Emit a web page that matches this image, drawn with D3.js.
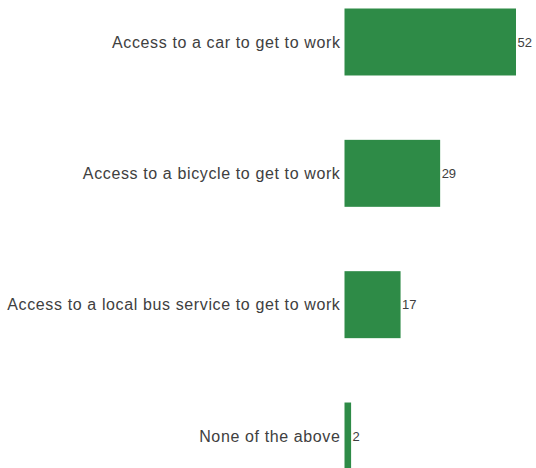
<!DOCTYPE html>
<html>
<head>
<meta charset="utf-8">
<script src="https://cdn.jsdelivr.net/npm/d3@7"></script>
<style>
  html, body { margin: 0; padding: 0; background: #fff; }
  svg { display: block; }
  .label { font-family: "Liberation Sans", Arial, sans-serif; font-size: 16px; letter-spacing: 0.62px; fill: #404040; }
  .value { font-family: "Liberation Sans", Arial, sans-serif; font-size: 13px; fill: #404040; }
</style>
</head>
<body>
<svg id="chart" width="536" height="468"></svg>
<script>
  const categories = [
    "Access to a car to get to work",
    "Access to a bicycle to get to work",
    "Access to a local bus service to get to work",
    "None of the above"
  ];
  const values = [52, 29, 17, 2];

  const W = 536, H = 468;
  const BAR_COLOR = "#2E8B47";

  const svg = d3.select("#chart");

  const x = d3.scaleLinear().domain([0, 52]).range([344.5, 516]);
  const y = d3.scaleBand()
    .domain(categories)
    .range([8.5, 469.5])
    .paddingInner(0.49)
    .paddingOuter(0);

  const rows = categories.map((c, i) => ({ cat: c, v: values[i] }));

  svg.append("g")
    .selectAll("rect")
    .data(rows)
    .join("rect")
    .attr("x", x(0))
    .attr("y", (d) => y(d.cat))
    .attr("width", (d) => x(d.v) - x(0))
    .attr("height", y.bandwidth())
    .attr("fill", BAR_COLOR);

  // category labels, right-aligned to the bar origin
  svg.append("g")
    .selectAll("text")
    .data(rows)
    .join("text")
    .attr("class", "label")
    .attr("x", x(0) - 4)
    .attr("y", (d) => y(d.cat) + y.bandwidth() / 2)
    .attr("dy", "0.35em")
    .attr("text-anchor", "end")
    .text((d) => d.cat);

  // value labels at bar ends
  svg.append("g")
    .selectAll("text")
    .data(rows)
    .join("text")
    .attr("class", "value")
    .attr("x", (d) => x(d.v) + 1.5)
    .attr("y", (d) => y(d.cat) + y.bandwidth() / 2)
    .attr("dy", "0.35em")
    .text((d) => d.v);
</script>
</body>
</html>
